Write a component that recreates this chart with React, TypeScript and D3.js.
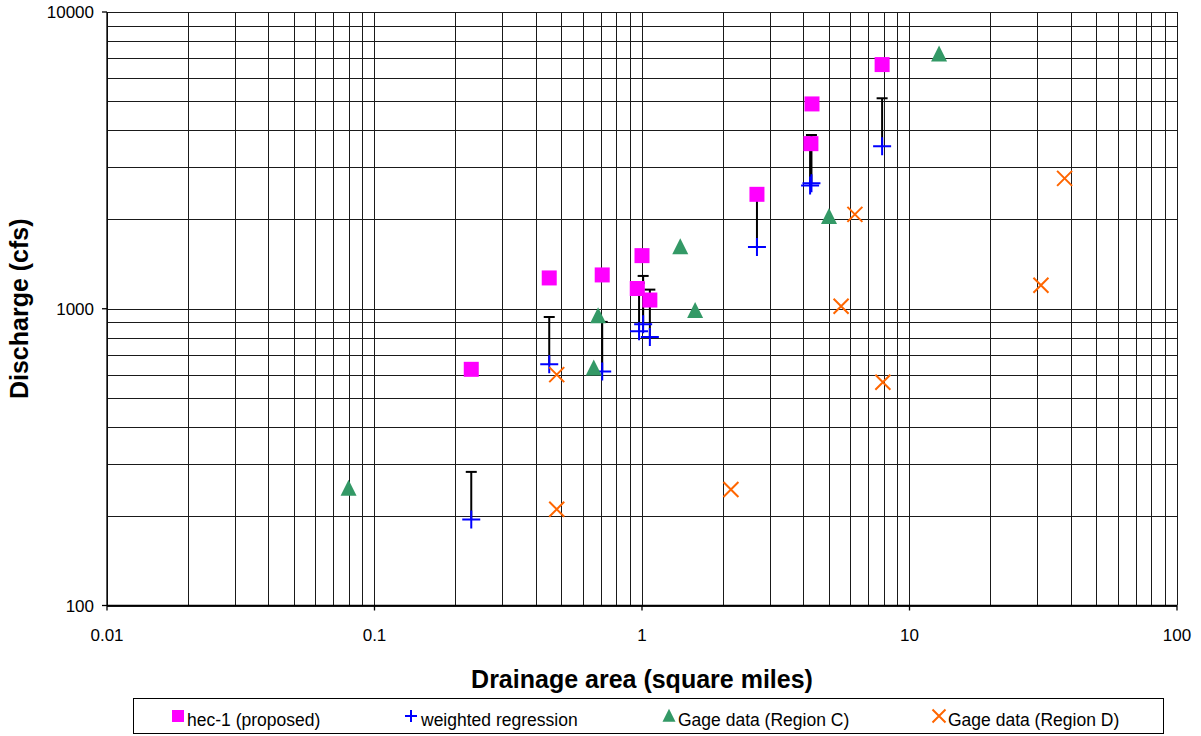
import { useEffect, useRef } from "react";
import * as d3 from "d3";

// hec-1 (proposed)
const hecArea = [0.23, 0.45, 0.71, 1.0, 0.96, 1.07, 2.69, 4.32, 4.28, 7.9];
const hecQ = [625, 1270, 1300, 1510, 1170, 1070, 2430, 4900, 3600, 6650];

// weighted regression + upper error bar end
const wrArea = [0.23, 0.45, 0.71, 0.975, 1.01, 1.07, 2.69, 4.3, 4.25, 7.9];
const wrQ = [195, 650, 615, 840, 887, 803, 1615, 2650, 2600, 3530];
const wrUpper = [282, 938, 903, 1220, 1290, 1160, 2340, 3850, 3770, 5120];

// gage data
const gageCArea = [0.08, 0.685, 0.66, 1.39, 1.58, 5.0, 12.9];
const gageCQ = [248, 945, 630, 1615, 985, 2040, 7200];
const gageDArea = [0.48, 0.48, 2.15, 5.55, 6.25, 7.95, 31, 38];
const gageDQ = [600, 211, 246, 1020, 2080, 565, 1200, 2750];

const xTicks = [0.01, 0.1, 1, 10, 100];
const xTickLabels = ["0.01", "0.1", "1", "10", "100"];
const yTicks = [100, 1000, 10000];
const yTickLabels = ["100", "1000", "10000"];

const legendLabels = [
  "hec-1 (proposed)",
  "weighted regression",
  "Gage data (Region C)",
  "Gage data (Region D)",
];

const FONT = "'Liberation Sans', Arial, sans-serif";
const MAGENTA = "#FF00FF";
const BLUE = "#0000FF";
const GREEN = "#339966";
const ORANGE = "#FF6600";

const App = () => {
  const ref = useRef<SVGSVGElement>(null);

  useEffect(() => {
    const width = 1201;
    const height = 736;
    const left = 107;
    const right = 1177;
    const top = 12;
    const bottom = 605.5;

    const svg = d3.select(ref.current).attr("viewBox", `0 0 ${width} ${height}`);
    svg.selectAll("*").remove();

    const x = d3.scaleLog().domain([0.01, 100]).range([left, right]);
    const y = d3.scaleLog().domain([100, 10000]).range([bottom, top]);

    svg.append("rect").attr("width", width).attr("height", height).attr("fill", "#fff");

    // grid
    const grid = svg.append("g").attr("stroke", "#1a1a1a").attr("stroke-width", 1);
    grid
      .selectAll("line.v")
      .data(x.ticks())
      .enter()
      .append("line")
      .attr("x1", (d) => Math.round(x(d)) + 0.5)
      .attr("x2", (d) => Math.round(x(d)) + 0.5)
      .attr("y1", top)
      .attr("y2", bottom);
    grid
      .selectAll("line.h")
      .data(y.ticks())
      .enter()
      .append("line")
      .attr("y1", (d) => Math.round(y(d)) + 0.5)
      .attr("y2", (d) => Math.round(y(d)) + 0.5)
      .attr("x1", left)
      .attr("x2", right);

    // axes
    const axes = svg.append("g").attr("stroke", "#000").attr("stroke-width", 1.3);
    axes.append("line").attr("x1", left).attr("x2", left).attr("y1", top).attr("y2", bottom);
    axes.append("line").attr("x1", left).attr("x2", right).attr("y1", bottom).attr("y2", bottom);
    axes
      .selectAll("line.yt")
      .data(yTicks)
      .enter()
      .append("line")
      .attr("x1", left - 5)
      .attr("x2", left)
      .attr("y1", (d) => y(d))
      .attr("y2", (d) => y(d));
    axes
      .selectAll("line.xt")
      .data(xTicks)
      .enter()
      .append("line")
      .attr("x1", (d) => x(d))
      .attr("x2", (d) => x(d))
      .attr("y1", bottom)
      .attr("y2", bottom + 5);

    svg
      .selectAll("text.yl")
      .data(yTicks)
      .enter()
      .append("text")
      .attr("x", left - 13)
      .attr("y", (d) => y(d) + 6)
      .attr("text-anchor", "end")
      .style("font-family", FONT)
      .style("font-size", "17px")
      .text((d, i) => yTickLabels[i]);

    svg
      .selectAll("text.xl")
      .data(xTicks)
      .enter()
      .append("text")
      .attr("x", (d) => x(d))
      .attr("y", 641)
      .attr("text-anchor", "middle")
      .style("font-family", FONT)
      .style("font-size", "17px")
      .text((d, i) => xTickLabels[i]);

    // axis titles
    svg
      .append("text")
      .attr("x", (left + right) / 2)
      .attr("y", 688)
      .attr("text-anchor", "middle")
      .style("font-family", FONT)
      .style("font-size", "25px")
      .style("font-weight", "700")
      .text("Drainage area (square miles)");

    svg
      .append("text")
      .attr("transform", `translate(28, ${(top + bottom) / 2}) rotate(-90)`)
      .attr("text-anchor", "middle")
      .style("font-family", FONT)
      .style("font-size", "25px")
      .style("font-weight", "700")
      .text("Discharge (cfs)");

    // error bars (upper only)
    const wrData = wrArea.map((a, i) => ({ a, q: wrQ[i], up: wrUpper[i] }));
    const eb = svg.append("g").attr("stroke", "#000").attr("stroke-width", 2);
    eb.selectAll("line.bar")
      .data(wrData)
      .enter()
      .append("line")
      .attr("x1", (d) => x(d.a))
      .attr("x2", (d) => x(d.a))
      .attr("y1", (d) => y(d.q))
      .attr("y2", (d) => y(d.up));
    eb.selectAll("line.cap")
      .data(wrData)
      .enter()
      .append("line")
      .attr("x1", (d) => x(d.a) - 5.5)
      .attr("x2", (d) => x(d.a) + 5.5)
      .attr("y1", (d) => y(d.up))
      .attr("y2", (d) => y(d.up));

    const square = (g, s) =>
      g.append("rect").attr("x", -s / 2).attr("y", -s / 2).attr("width", s).attr("height", s).attr("fill", MAGENTA);
    const plus = (g, s) =>
      g
        .append("path")
        .attr("d", `M${-s / 2},0H${s / 2}M0,${-s / 2}V${s / 2}`)
        .attr("stroke", BLUE)
        .attr("stroke-width", 2)
        .attr("fill", "none");
    const triangle = (g, s) =>
      g
        .append("path")
        .attr("d", `M0,${-s * 0.55}L${s / 2},${s * 0.45}L${-s / 2},${s * 0.45}Z`)
        .attr("fill", GREEN);
    const cross = (g, s) =>
      g
        .append("path")
        .attr("d", `M${-s / 2},${-s / 2}L${s / 2},${s / 2}M${s / 2},${-s / 2}L${-s / 2},${s / 2}`)
        .attr("stroke", ORANGE)
        .attr("stroke-width", 2)
        .attr("fill", "none");

    const series = [
      { areas: hecArea, qs: hecQ, draw: square, size: 15 },
      { areas: wrArea, qs: wrQ, draw: plus, size: 18 },
      { areas: gageCArea, qs: gageCQ, draw: triangle, size: 16 },
      { areas: gageDArea, qs: gageDQ, draw: cross, size: 15 },
    ];

    series.forEach((s) => {
      s.areas.forEach((a, i) => {
        const g = svg.append("g").attr("transform", `translate(${x(a)},${y(s.qs[i])})`);
        s.draw(g, s.size);
      });
    });

    // legend
    svg
      .append("rect")
      .attr("x", 133.5)
      .attr("y", 698.5)
      .attr("width", 1030)
      .attr("height", 35)
      .attr("fill", "#fff")
      .attr("stroke", "#000")
      .attr("stroke-width", 1);

    const legendX = [178, 411, 669, 939];
    const legendTextX = [187, 421, 678, 948];
    const legendSize = [12, 12, 13, 13];
    legendLabels.forEach((label, i) => {
      const g = svg.append("g").attr("transform", `translate(${legendX[i]},716)`);
      series[i].draw(g, legendSize[i]);
      svg
        .append("text")
        .attr("x", legendTextX[i])
        .attr("y", 726)
        .style("font-family", FONT)
        .style("font-size", "17.5px")
        .text(label);
    });
  }, []);

  return (
    <div style={{ position: "absolute", left: 0, top: 0 }}>
      <svg ref={ref} width={1201} height={736} style={{ display: "block" }}></svg>
    </div>
  );
};

export default App;
